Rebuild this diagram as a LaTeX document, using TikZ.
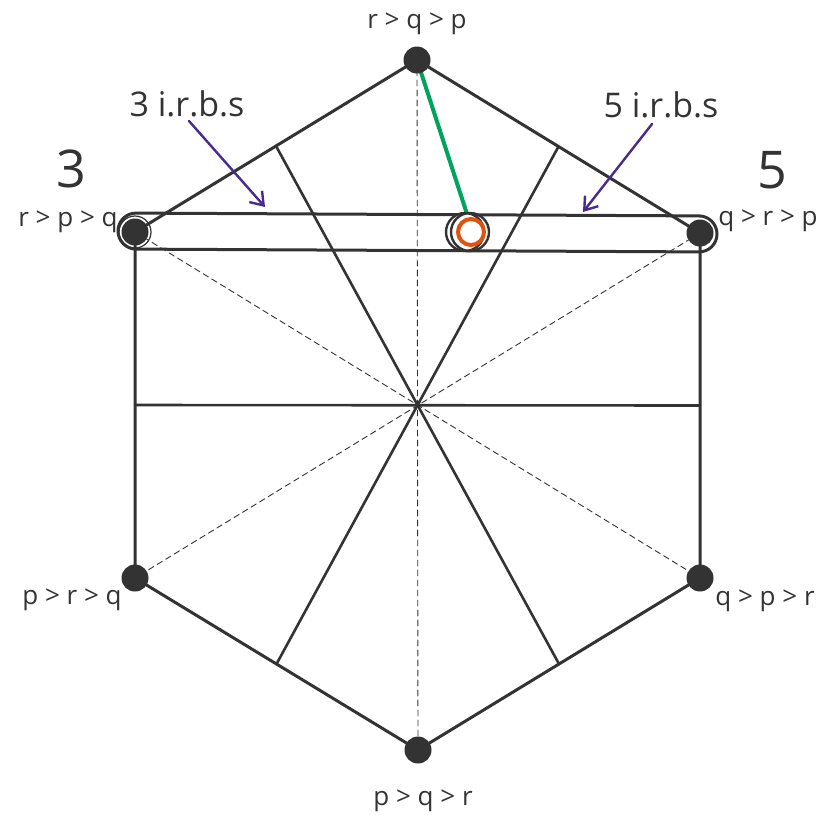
\documentclass[tikz,border=0pt]{standalone}
\usepackage{fontspec}
\setmainfont{Open Sans}
\usetikzlibrary{arrows.meta,calc}
\definecolor{ink}{HTML}{333333}
\definecolor{grn}{HTML}{00A35C}
\definecolor{org}{HTML}{E2520F}
\definecolor{pur}{HTML}{4A2A8E}
\tikzset{
  dot/.style={circle,fill=ink,minimum size=27pt,inner sep=0pt},
  edge/.style={ink,line width=3pt},
  mid/.style={ink,line width=2.6pt},
  dsh/.style={ink,line width=0.9pt,dash pattern=on 6pt off 4pt},
  lbl/.style={text=ink,font=\fontsize{26}{30}\selectfont,inner sep=0pt,anchor=base},
  big/.style={text=ink,font=\fontsize{52}{60}\selectfont,inner sep=0pt,anchor=base},
  irb/.style={text=ink,font=\fontsize{34}{38}\selectfont,inner sep=0pt,anchor=base},
  parr/.style={pur,line width=2.4pt,-{Straight Barb[length=12pt,width=17pt,line width=2.4pt]}}
}
\begin{document}
\begin{tikzpicture}[x=1pt,y=-1pt,line join=round,line cap=round]
\useasboundingbox (0,0) rectangle (826,814);
% vertices
\coordinate (T) at (417,60);
\coordinate (UL) at (135,232);
\coordinate (UR) at (700,233);
\coordinate (LL) at (135,578);
\coordinate (LR) at (700,578);
\coordinate (B) at (418,750);
\coordinate (M1) at ($(T)!0.5!(UL)$);
\coordinate (M2) at ($(T)!0.5!(UR)$);
\coordinate (M3) at ($(LL)!0.5!(B)$);
\coordinate (M4) at ($(LR)!0.5!(B)$);
\coordinate (M5) at ($(UL)!0.5!(LL)$);
\coordinate (M6) at ($(UR)!0.5!(LR)$);
% dashed diagonals
\draw[dsh] (T) -- (B);
\draw[dsh] (UL) -- (LR);
\draw[dsh] (UR) -- (LL);
% solid interior lines
\draw[mid] (M1) -- (M4);
\draw[mid] (M2) -- (M3);
\draw[mid] (M5) -- (M6);
% hexagon
\draw[edge] (UL) -- (T) -- (UR) -- (LR) -- (B) -- (LL) -- cycle;
% rounded band
\draw[ink,line width=3pt,rounded corners=18pt] (118,213) -- (717,216) -- (717,252) -- (118,249) -- cycle;
% green line and point
\coordinate (G) at (467,214);
\draw[grn,line width=4pt,line cap=butt] (T) -- (G);
\draw[ink,line width=2.4pt,fill=white] (465,232) circle[radius=19pt];
\draw[ink,line width=2.4pt] (470,232) circle[radius=19pt];
\draw[org,line width=4pt,fill=white] (471,232) circle[radius=13pt];
% rings
\draw[ink,line width=1.2pt] (UL) circle[radius=16pt];
% dots
\node[dot] (nT) at (T) {};
\node[dot] (nUL) at (UL) {};
\node[dot] (nUR) at (UR) {};
\node[dot] (nLL) at (LL) {};
\node[dot] (nLR) at (LR) {};
\node[dot] (nB) at (B) {};
% labels
\node[lbl] (lT) at (417,28) {r > q > p};
\node[lbl] (lUL) at (68,226) {r > p > q};
\node[lbl] (lUR) at (768,225) {q > r > p};
\node[lbl] (lLL) at (72,604) {p > r > q};
\node[lbl] (lLR) at (765,605) {q > p > r};
\node[lbl] (lB) at (423,805) {p > q > r};
\node[big] (n3) at (71,187) {3};
\node[big] (n5) at (772,188) {5};
\node[irb] (i3) at (187,116) {3 i.r.b.s};
\node[irb] (i5) at (661,117) {5 i.r.b.s};
\coordinate (s3) at (189,121);
\coordinate (s5) at (652,124);
\coordinate (a3) at (265,207);
\coordinate (a5) at (583,212);
\draw[parr] (s3) -- (a3);
\draw[parr] (s5) -- (a5);
\end{tikzpicture}
\end{document}
